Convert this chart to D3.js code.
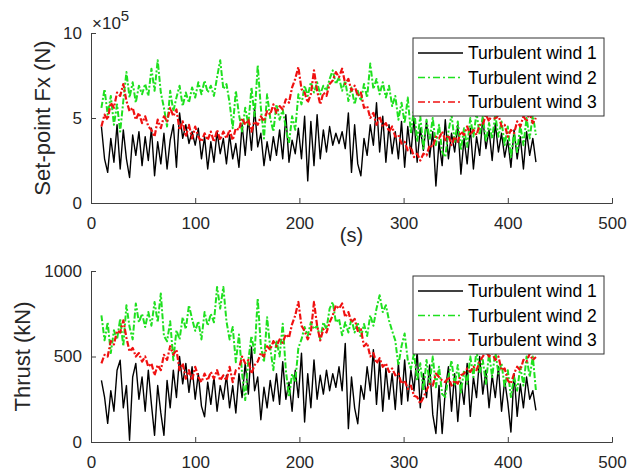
<!DOCTYPE html>
<html lang="en">
<head>
<meta charset="utf-8">
<title>Set-point and thrust</title>
<script src="https://d3js.org/d3.v7.min.js"></script>
<style>
  body { margin: 0; background: #fff; }
  svg { font-family: "Liberation Sans", Arial, sans-serif; }
  .axis path, .axis line { stroke: #404040; }
  .axis text { fill: #262626; font-size: 17px; font-family: "Liberation Sans", Arial, sans-serif; }
</style>
</head>
<body>
<div id="chart"></div>
<script>
// sampling: one value every 3 s, starting at t = 10 s
const t0 = 10, dt = 3;
const xTicks = [0, 100, 200, 300, 400, 500];
const names = ["Turbulent wind 1", "Turbulent wind 2", "Turbulent wind 3"];

// set-point Fx, in units of 1e5 N
const fxTicks = [0, 5, 10];
const fxWind1 = [
  4.5, 2.6, 1.8, 3.8, 2.4, 4.6, 2.0, 4.3, 2.6, 1.5,
  4.0, 2.8, 4.2, 2.2, 3.9, 2.5, 4.4, 1.6, 3.6, 2.3,
  4.1, 2.0, 3.7, 4.6, 2.1, 5.3, 3.8, 4.6, 3.5, 4.2,
  3.4, 4.4, 2.6, 3.9, 2.0, 3.6, 2.4, 4.2, 2.9, 3.8,
  2.3, 4.0, 2.6, 3.5, 2.1, 4.6, 2.8, 5.0, 3.1, 5.6,
  3.3, 4.1, 2.2, 3.6, 2.5, 3.9, 2.8, 4.3, 2.6, 5.2,
  2.4, 3.7, 2.9, 4.4, 2.6, 5.1, 1.3, 4.8, 2.2, 5.2,
  2.6, 4.3, 3.0, 4.5, 3.4, 4.1, 3.5, 4.2, 3.2, 5.3,
  1.8, 4.6, 2.3, 1.6, 3.8, 2.8, 4.6, 3.4, 5.9, 3.0,
  5.1, 2.4, 4.6, 2.9, 4.2, 2.6, 4.8, 2.1, 4.5, 2.9,
  5.0, 2.4, 4.4, 3.1, 4.8, 2.7, 4.2, 1.0, 3.6, 2.2,
  4.9, 2.6, 4.1, 3.0, 4.6, 1.7, 3.8, 2.3, 4.4, 2.0,
  3.9, 2.8, 5.0, 3.2, 4.3, 2.5, 4.7, 3.0, 4.1, 2.7,
  3.7, 2.1, 4.3, 2.6, 3.9, 2.0, 4.2, 2.8, 3.8, 2.4
];
const fxWind2 = [
  5.6, 6.7, 5.2, 6.3, 4.6, 5.8, 4.2, 6.0, 7.7, 6.2,
  7.1, 5.9, 6.9, 6.4, 7.0, 6.3, 7.9, 6.6, 8.4, 6.5,
  5.6, 4.5, 6.6, 5.4, 6.2, 6.9, 5.7, 6.5, 5.9, 6.8,
  6.2, 7.1, 6.4, 7.2, 6.5, 6.9, 6.3, 7.4, 8.4, 6.7,
  7.0, 5.9, 4.4, 6.6, 5.2, 4.2, 5.6, 4.6, 6.8, 5.1,
  8.1, 5.6, 3.8, 6.4, 5.0, 4.2, 5.8, 4.9, 5.5, 4.4,
  3.5, 5.1, 4.3, 6.4, 5.8, 6.9, 6.3, 7.1, 6.5, 7.1,
  6.4, 6.9, 6.6, 7.3, 7.8, 7.0, 7.4, 6.6, 7.2, 6.0,
  6.8, 5.8, 6.6, 6.0, 7.0, 6.2, 8.2, 6.7, 7.3, 6.4,
  7.1, 6.2, 6.9, 5.7, 6.3, 4.9, 5.9, 4.7, 6.2, 4.1,
  5.6, 3.6, 5.1, 3.2, 4.9, 3.7, 5.0, 3.4, 4.6, 3.0,
  2.7, 4.2, 5.2, 3.6, 4.8, 3.1, 4.4, 3.3, 5.0, 3.9,
  5.3, 4.0, 5.1, 3.6, 4.7, 3.8, 5.2, 3.9, 4.8, 3.4,
  4.5, 2.7, 4.1, 3.0, 4.6, 3.4, 5.0, 3.8, 5.2, 4.0
];
const fxWind3 = [
  4.5, 5.2, 4.9, 5.9, 5.6, 6.5, 6.3, 7.0, 6.0, 5.4,
  5.6, 4.9, 5.3, 4.7, 5.1, 4.5, 4.3, 3.9, 4.9, 4.4,
  5.1, 4.8, 5.6, 5.1, 5.5, 4.3, 4.8, 3.9, 4.6, 3.8,
  4.5, 3.9, 3.6, 4.1, 3.7, 4.2, 3.6, 4.3, 3.7, 4.2,
  3.8, 4.3, 3.7, 4.4, 4.3, 5.0, 4.6, 4.9, 4.2, 4.8,
  4.6, 5.1, 4.8, 5.4, 5.2, 5.8, 5.3, 5.7, 5.5, 6.1,
  5.9, 6.8, 7.3, 8.0, 6.7, 6.5, 5.9, 6.4, 7.8, 6.6,
  5.8, 6.5, 6.3, 7.0, 7.2, 7.7, 7.4, 7.9, 7.0, 7.3,
  6.6, 6.9, 6.3, 6.5, 5.6, 5.7, 5.0, 5.3, 4.6, 5.1,
  4.5, 4.7, 4.2, 4.5, 3.9, 4.0, 3.5, 3.6, 3.1, 3.3,
  2.7, 2.9, 2.5, 2.9, 2.8, 3.4, 3.3, 3.9, 3.8, 4.2,
  3.7, 4.0, 3.4, 3.9, 3.6, 4.2, 4.0, 4.5, 4.0, 4.3,
  4.0, 4.6, 4.6, 5.2, 4.8, 5.3, 4.9, 5.2, 4.5, 4.6,
  3.9, 4.3, 4.1, 4.8, 4.5, 5.1, 4.8, 5.3, 4.7, 5.0
];

// thrust, kN
const thrustTicks = [0, 500, 1000];
const thrustWind1 = [
  361, 263, 109, 300, 180, 420, 478, 200, 330, 10,
  380, 460, 250, 380, 180, 420, 220, 39, 330, 170,
  39, 360, 200, 420, 260, 500, 340, 460, 290, 440,
  250, 400, 210, 148, 350, 220, 380, 180, 330, 250,
  390, 200, 330, 170, 400, 260, 460, 280, 556, 300,
  380, 130, 320, 200, 360, 240, 400, 220, 470, 250,
  350, 180, 420, 260, 520, 117, 400, 200, 480, 250,
  390, 280, 420, 300, 400, 320, 440, 300, 577, 78,
  380, 200, 107, 330, 250, 440, 300, 540, 220, 480,
  180, 430, 250, 400, 190, 460, 220, 480, 240, 420,
  300, 530, 200, 400, 260, 450, 160, 50, 330, 50,
  300, 440, 180, 400, 120, 350, 220, 460, 150, 380,
  260, 500, 280, 420, 200, 390, 260, 440, 180, 360,
  230, 58, 400, 150, 340, 200, 380, 250, 300, 185
];
const thrustWind2 = [
  741, 595, 700, 520, 653, 600, 720, 560, 800, 672,
  600, 810, 700, 750, 672, 760, 680, 819, 700, 869,
  620, 589, 706, 478, 653, 600, 730, 660, 800, 720,
  650, 706, 600, 760, 680, 750, 700, 907, 780, 907,
  706, 600, 672, 467, 628, 400, 245, 480, 620, 520,
  840, 560, 467, 730, 550, 420, 594, 500, 692, 420,
  263, 400, 350, 550, 600, 672, 620, 700, 660, 680,
  600, 700, 660, 780, 819, 700, 720, 624, 700, 640,
  720, 640, 700, 610, 690, 620, 741, 680, 780, 858,
  760, 800, 711, 650, 594, 448, 560, 634, 480, 428,
  520, 360, 460, 300, 480, 340, 500, 320, 440, 280,
  263, 380, 477, 330, 450, 290, 420, 340, 500, 380,
  536, 400, 480, 340, 520, 380, 530, 400, 460, 320,
  420, 263, 380, 300, 440, 330, 500, 380, 500, 300
];
const thrustWind3 = [
  460, 510, 500, 590, 570, 650, 640, 711, 610, 530,
  550, 500, 520, 470, 500, 440, 460, 390, 450, 420,
  510, 480, 560, 510, 540, 420, 460, 370, 420, 360,
  440, 380, 350, 400, 360, 410, 370, 420, 360, 390,
  360, 440, 350, 420, 430, 500, 460, 480, 400, 450,
  470, 520, 500, 560, 540, 590, 560, 600, 580, 630,
  610, 690, 740, 819, 680, 650, 600, 640, 820, 680,
  594, 660, 640, 700, 740, 800, 780, 810, 730, 760,
  700, 720, 650, 660, 560, 580, 500, 520, 460, 490,
  440, 460, 410, 430, 390, 400, 340, 360, 310, 330,
  270, 263, 224, 260, 302, 340, 330, 400, 380, 360,
  350, 380, 330, 360, 341, 390, 400, 430, 410, 440,
  420, 470, 500, 530, 500, 520, 480, 500, 420, 430,
  360, 341, 400, 440, 420, 480, 470, 516, 480, 497
];

const colors = ["#000000", "#1fe01f", "#f01010"];
const dashes = [null, "6,2,2,2", "6,2,2,2"];
const widths = [1.4, 2.0, 2.2];

const W = 629, H = 474;
const svg = d3.select("#chart").append("svg")
  .attr("width", W).attr("height", H);

const x = d3.scaleLinear().domain([0, 500]).range([91, 612]);

function panel(top, bottom, yMax, yTicks, series, ylabel, labelX) {
  const y = d3.scaleLinear().domain([0, yMax]).range([bottom, top]);
  const g = svg.append("g");

  // data lines
  const line = d3.line()
    .x((d, i) => x(t0 + i * dt))
    .y(d => y(d));
  series.forEach((s, k) => {
    g.append("path")
      .datum(s)
      .attr("fill", "none")
      .attr("stroke", colors[k])
      .attr("stroke-width", widths[k])
      .attr("stroke-linejoin", "round")
      .attr("stroke-dasharray", dashes[k])
      .attr("d", line);
  });

  // axes (left and bottom only, ticks inside)
  g.append("g").attr("class", "axis")
    .attr("transform", `translate(0,${bottom})`)
    .call(d3.axisBottom(x).tickValues(xTicks).tickSizeInner(-5).tickSizeOuter(-5).tickPadding(14));
  g.append("g").attr("class", "axis")
    .attr("transform", `translate(${x.range()[0]},0)`)
    .call(d3.axisLeft(y).tickValues(yTicks).tickFormat(d3.format("d"))
      .tickSizeInner(-5).tickSizeOuter(-5).tickPadding(9));

  g.append("text")
    .attr("transform", `translate(${labelX},${(top + bottom) / 2}) rotate(-90)`)
    .attr("text-anchor", "middle")
    .attr("font-size", 22)
    .attr("fill", "#262626")
    .text(ylabel);

  // legend
  const lx = 413, ly = top + 5, lw = 191, lh = 78;
  const lg = g.append("g");
  lg.append("rect")
    .attr("x", lx).attr("y", ly).attr("width", lw).attr("height", lh)
    .attr("fill", "#fff").attr("stroke", "#333").attr("stroke-width", 1);
  names.forEach((n, k) => {
    const yy = ly + 15 + k * 24.5;
    lg.append("line")
      .attr("x1", lx + 5).attr("x2", lx + 50)
      .attr("y1", yy).attr("y2", yy)
      .attr("stroke", colors[k]).attr("stroke-width", 1.3)
      .attr("stroke-dasharray", k ? "7,3,2,3" : null);
    lg.append("text")
      .attr("x", lx + 55).attr("y", yy)
      .attr("dy", "0.35em")
      .attr("font-size", 17.5)
      .attr("fill", "#000")
      .text(n);
  });
  return y;
}

panel(33, 203, 10, fxTicks, [fxWind1, fxWind2, fxWind3], "Set-point Fx (N)", 50);
panel(271, 442, 1000, thrustTicks, [thrustWind1, thrustWind2, thrustWind3], "Thrust (kN)", 30);

// exponent label for the top axis
const ex = svg.append("text")
  .attr("x", 92).attr("y", 29)
  .attr("font-size", 17).attr("fill", "#262626");
ex.append("tspan").text("\u00d710");
ex.append("tspan").attr("dy", -8).attr("font-size", 15).text("5");

// x label of the top panel
svg.append("text")
  .attr("x", 351.5).attr("y", 242)
  .attr("text-anchor", "middle")
  .attr("font-size", 20)
  .attr("fill", "#262626")
  .text("(s)");
</script>
</body>
</html>
